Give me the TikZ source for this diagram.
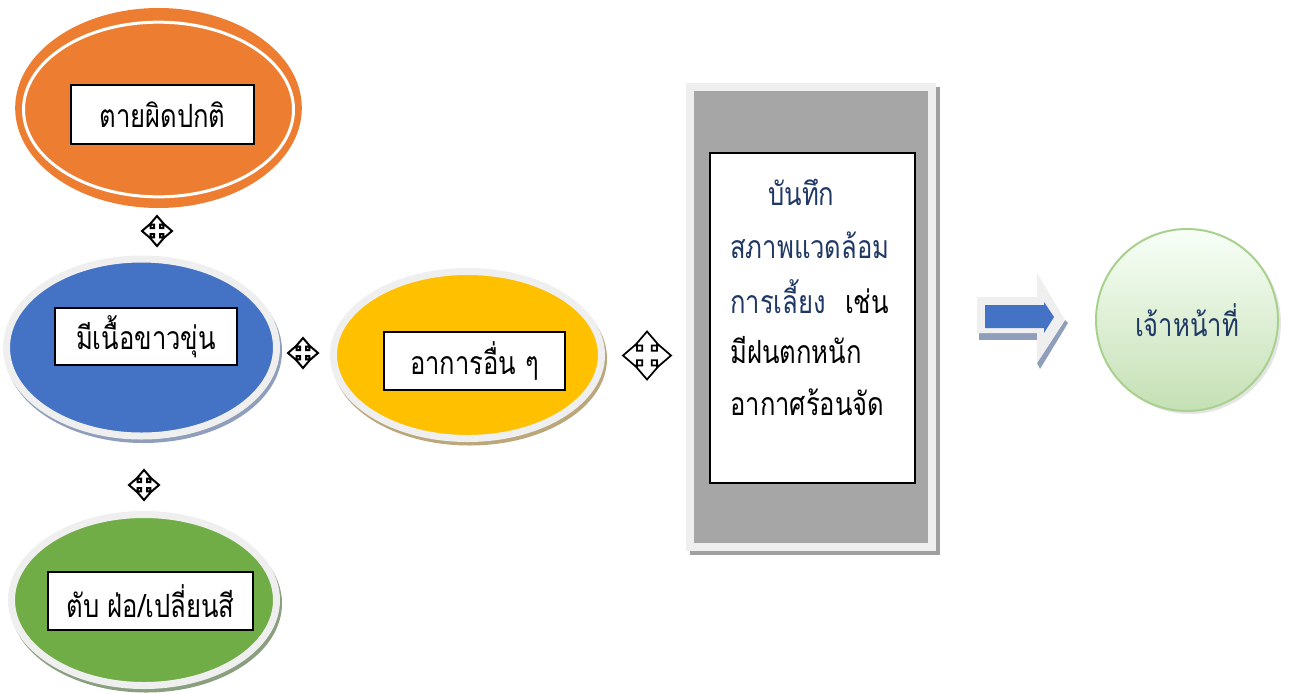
\documentclass[tikz,border=0pt]{standalone}
\usepackage{fontspec}
\setmainfont[Script=Thai, FakeStretch=0.8]{Loma}
\usetikzlibrary{shapes.geometric,calc}
\definecolor{orng}{HTML}{ED7D31}
\definecolor{blu}{HTML}{4472C4}
\definecolor{yel}{HTML}{FFC000}
\definecolor{grn}{HTML}{70AD47}
\definecolor{ringc}{HTML}{EFEFEF}
\definecolor{navy}{HTML}{1F3864}
\definecolor{bshadow}{HTML}{8E9EBB}
\definecolor{yshadow}{HTML}{BBA77A}
\definecolor{gshadow}{HTML}{8A9E80}
\definecolor{panel}{HTML}{A6A6A6}
\definecolor{panelsh}{HTML}{A0A0A0}
\definecolor{cborder}{HTML}{A9D18E}
\tikzset{
  oval/.style={ellipse, inner sep=0pt, draw=ringc, line width=5.25pt},
  ovalshadow/.style={ellipse, inner sep=0pt, line width=5.25pt},
  lbl/.style={rectangle, fill=white, draw=black, line width=1.1pt, inner sep=0pt,
              font=\fontsize{24}{28}\selectfont},
  recline/.style={anchor=west, inner sep=0pt, font=\fontsize{24}{28}\selectfont},
  movesym/.pic={
    \draw[fill=white, line join=miter]
      (0,1) -- (0.5,0.42) -- (0.2,0.42) -- (0.2,0.2) -- (0.42,0.2) -- (0.42,0.5)
      -- (1,0) -- (0.42,-0.5) -- (0.42,-0.2) -- (0.2,-0.2) -- (0.2,-0.42) -- (0.5,-0.42)
      -- (0,-1) -- (-0.5,-0.42) -- (-0.2,-0.42) -- (-0.2,-0.2) -- (-0.42,-0.2) -- (-0.42,-0.5)
      -- (-1,0) -- (-0.42,0.5) -- (-0.42,0.2) -- (-0.2,0.2) -- (-0.2,0.42) -- (-0.5,0.42) -- cycle;
  }
}
\begin{document}
\begin{tikzpicture}[x=0.75pt,y=-0.75pt]
\useasboundingbox (0,0) rectangle (1291,693);

% orange oval
\node[ellipse, inner sep=0pt, fill=orng, minimum width=215pt, minimum height=150pt] (o1) at (158.5,108) {};
\node[ellipse, inner sep=0pt, draw=white, line width=2.25pt, minimum width=202.5pt, minimum height=131pt] (o1r) at (158.5,109.5) {};
\node[lbl, minimum width=137.25pt, minimum height=44.25pt] (l1) at (162.5,114.5) {ตายผิดปกติ};

% blue oval
\node[ovalshadow, fill=bshadow, draw=bshadow, minimum width=202.5pt, minimum height=132.75pt] (o2s) at (143.5,351) {};
\node[oval, fill=blu, minimum width=202.5pt, minimum height=132.75pt] (o2) at (141.5,347.5) {};
\node[lbl, minimum width=136.5pt, minimum height=42.75pt] (l2) at (146,336.5) {มีเนื้อขาวขุ่น};

% yellow oval
\node[ovalshadow, fill=yshadow, draw=yshadow, minimum width=201pt, minimum height=125.25pt] (o3s) at (469.5,358.5) {};
\node[oval, fill=yel, minimum width=201pt, minimum height=125.25pt] (o3) at (467.5,355) {};
\node[lbl, minimum width=135.75pt, minimum height=43.5pt] (l3) at (474.5,361) {อาการอื่น ๆ};

% green oval
\node[ovalshadow, fill=gshadow, draw=gshadow, minimum width=198.75pt, minimum height=128.25pt] (o4s) at (146,603.5) {};
\node[oval, fill=grn, minimum width=198.75pt, minimum height=128.25pt] (o4) at (144,600) {};
\node[lbl, minimum width=153.75pt, minimum height=43.5pt] (l4) at (150.5,601) {ตับ ฝ่อ/เปลี่ยนสี};

% move symbols
\pic[line width=1.5pt, scale=15] (m1) at (157,231) {movesym};
\pic[line width=1.5pt, scale=15] (m2) at (303,353) {movesym};
\pic[line width=1.5pt, scale=15] (m3) at (144,485) {movesym};
\pic[line width=1.3pt, scale=24] (m4) at (647,355.5) {movesym};

% record panel
\node[rectangle, inner sep=0pt, fill=panelsh, draw=panelsh, line width=6pt, minimum width=182pt, minimum height=345pt] (ps) at (815,321) {};
\node[rectangle, inner sep=0pt, fill=panel, draw=ringc, line width=6pt, minimum width=182pt, minimum height=345pt] (p) at (811,316.5) {};
\node[rectangle, inner sep=0pt, fill=white, draw=black, line width=1.1pt, minimum width=153.75pt, minimum height=247.5pt] (pb) at (812.5,318) {};
\node[recline, text=navy] (r1) at (768,192) {บันทึก};
\node[recline, text=navy] (r2) at (730,245) {สภาพแวดล้อม};
\node[recline] (r3) at (730,297) {\textcolor{navy}{การเลี้ยง}\hspace{0.6em}เช่น};
\node[recline] (r4) at (730,350) {มีฝนตกหนัก};
\node[recline] (r5) at (730,402) {อากาศร้อนจัด};

% block arrow
\fill[bshadow] (979,333) -- (1039,333) -- (1039,340) -- (979,340) -- cycle;
\fill[bshadow] (1065,320) -- (1068,323) -- (1040,369) -- (1037,363) -- cycle;
\fill[ringc] (977,297) -- (1037,297) -- (1037,273) -- (1065,320) -- (1037,363) -- (1037,333) -- (977,333) -- cycle;
\fill[blu] (985,305) -- (1044,305) -- (1044,302) -- (1054,317) -- (1044,333) -- (1044,328) -- (985,328) -- cycle;

% officer circle
\node[circle, inner sep=0pt, fill=black!10, minimum size=136.5pt] (cs) at (1190,323) {};
\node[circle, inner sep=0pt, draw=cborder, line width=1.5pt, top color=green!3!white, bottom color={rgb,255:red,197;green,224;blue,180}, minimum size=136.5pt, text=navy, font=\fontsize{24}{28}\selectfont] (c) at (1187,320) {เจ้าหน้าที่};
\end{tikzpicture}
\end{document}
